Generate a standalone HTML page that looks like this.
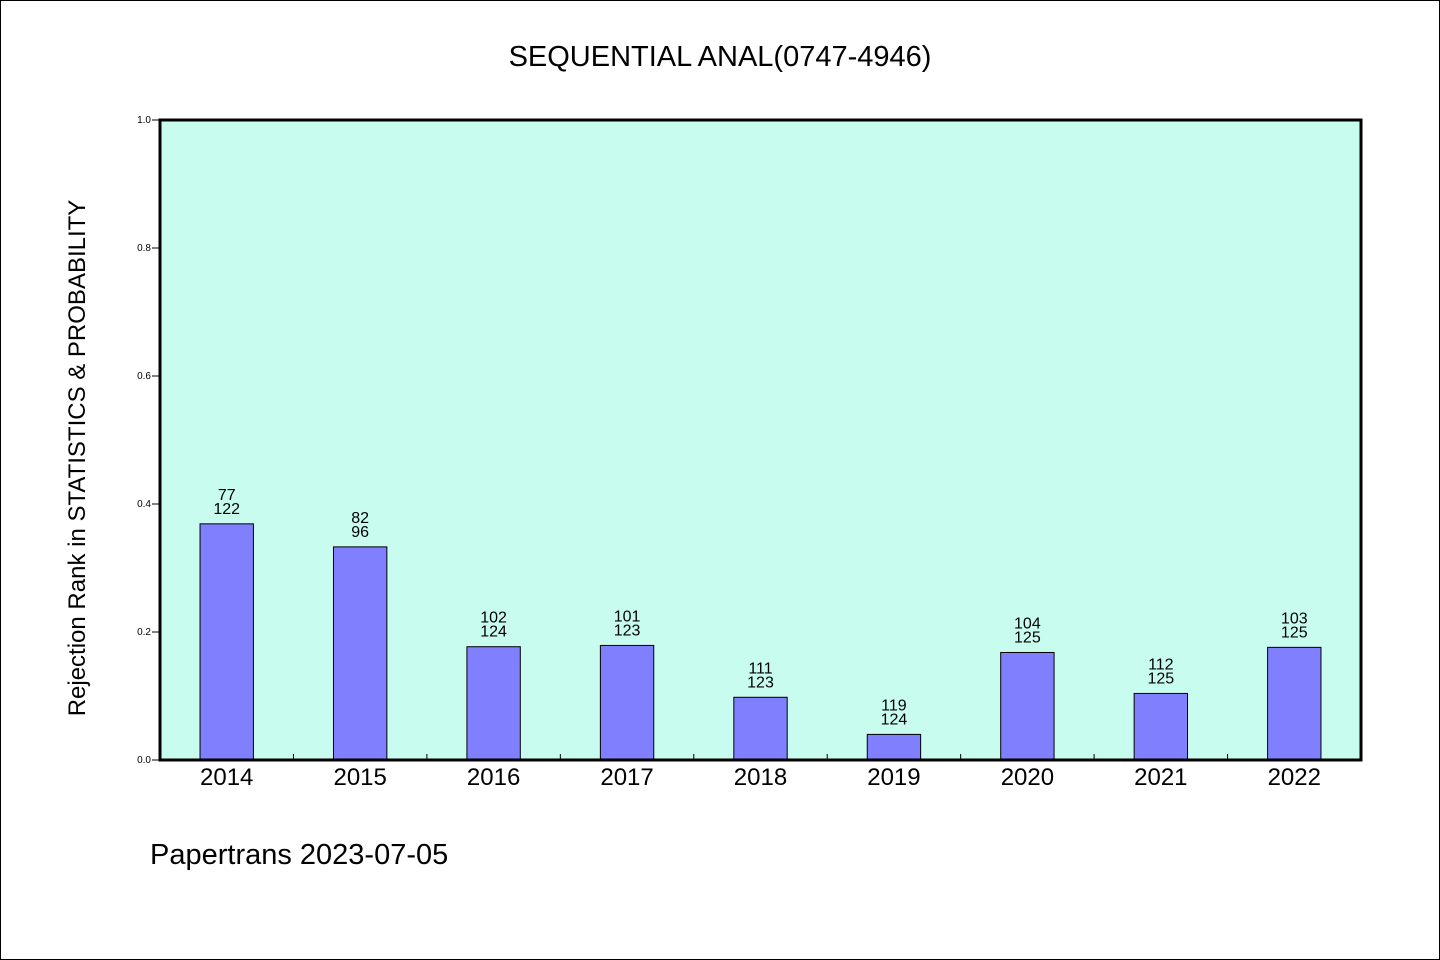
<!DOCTYPE html>
<html><head><meta charset="utf-8"><style>
html,body{margin:0;padding:0;background:#fff;}
svg{display:block;font-family:"WenQuanYi Zen Hei","Liberation Sans",sans-serif;}
</style></head><body>
<svg id="chart" width="1440" height="960" xmlns="http://www.w3.org/2000/svg">
<rect x="0.5" y="0.5" width="1439" height="959" fill="#fff" stroke="#000"/>
<text x="720" y="66" text-anchor="middle" font-size="29">SEQUENTIAL ANAL(0747-4946)</text>
<rect x="160" y="120" width="1201" height="640" fill="#c8fcee"/>
<g id="bars"></g>
<rect x="160" y="120" width="1201" height="640" fill="none" stroke="#000" stroke-width="3"/>
<text transform="translate(85,458) rotate(-90)" text-anchor="middle" font-size="24">Rejection Rank in STATISTICS &amp; PROBABILITY</text>
<text x="150" y="864" font-size="29">Papertrans 2023-07-05</text>
</svg>
<script>
const categories=["2014","2015","2016","2017","2018","2019","2020","2021","2022"];
const values=[0.369,0.333,0.177,0.179,0.098,0.040,0.168,0.104,0.176];
const ranks=["77","82","102","101","111","119","104","112","103"];
const totals=["122","96","124","123","123","124","125","125","125"];
const yTicks=[0,0.2,0.4,0.6,0.8,1.0];
const yTickLabels=["0.0","0.2","0.4","0.6","0.8","1.0"];
const NS="http://www.w3.org/2000/svg";
const X0=160,X1=1361,Y0=760,Y1=120;
const slot=(X1-X0)/categories.length;
const xc=i=>X0+slot*(i+0.5);
const y=v=>Y0-(v)*(Y0-Y1);
const g=document.getElementById('bars');
function mk(t,a){const e=document.createElementNS(NS,t);for(const k in a)e.setAttribute(k,a[k]);g.appendChild(e);return e;}
yTicks.forEach((v,i)=>{
 const l=mk('line',{x1:152,x2:160,y1:y(v),y2:y(v),stroke:'#000'});
 
 
 const t=mk('text',{x:151,y:y(v)+3,'text-anchor':'end','font-size':10,'font-family':'Liberation Sans, sans-serif'});
 t.textContent=yTickLabels[i];
 
 
});
for(let i=1;i<categories.length;i++){
 const l=mk('line',{x1:X0+slot*i,x2:X0+slot*i,y1:Y0,y2:Y0-6,stroke:'#000'});
 
 
}
categories.forEach((c,i)=>{
 const w=slot*0.4;
 const r=mk('rect',{x:xc(i)-w/2,y:y(values[i]),width:w,height:Y0-y(values[i]),fill:'#8080ff',stroke:'#000','stroke-width':1});
 
 
 const t1=mk('text',{x:xc(i),y:y(values[i])-24,'text-anchor':'middle','font-size':16});
 t1.textContent=ranks[i];
 
 
 const t2=mk('text',{x:xc(i),y:y(values[i])-10,'text-anchor':'middle','font-size':16});
 t2.textContent=totals[i];
 
 
 const xl=mk('text',{x:xc(i),y:785,'text-anchor':'middle','font-size':24});
 xl.textContent=c;
 
 
});
</script>
</body></html>
